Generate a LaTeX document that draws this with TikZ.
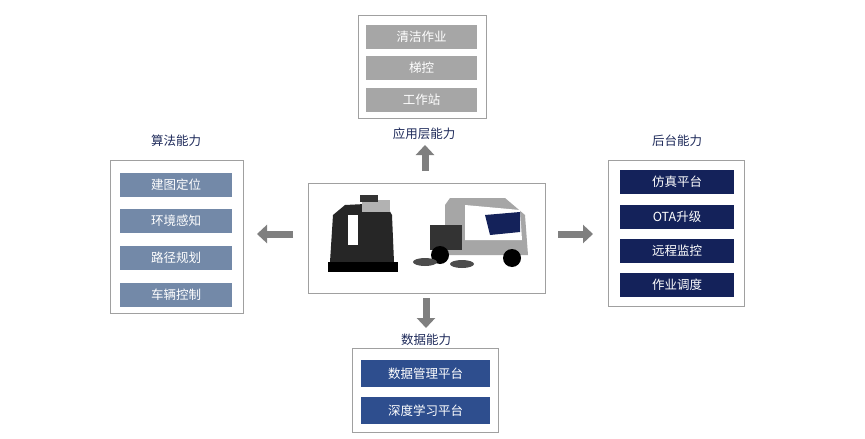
\documentclass[tikz,border=0pt]{standalone}
\usepackage{fontspec}
\newfontfamily\cjk{Noto Sans CJK SC}
\usetikzlibrary{arrows.meta}
\definecolor{frame}{HTML}{A0A0A0}
\definecolor{grayb}{HTML}{A6A6A6}
\definecolor{slate}{HTML}{7389A8}
\definecolor{navy}{HTML}{14225A}
\definecolor{midb}{HTML}{2E4E8E}
\definecolor{lab}{HTML}{1E2A5A}
\definecolor{arr}{HTML}{7F7F7F}
\tikzset{
 panel/.style={draw=frame,line width=0.8pt,fill=white},
 btn/.style={minimum height=24pt,text=white,font=\cjk\fontsize{12.5}{14}\selectfont,inner sep=0pt},
 ttl/.style={text=lab,font=\cjk\fontsize{12.5}{14}\selectfont},
 bigarrow/.style={draw=arr,line width=7pt,-{Triangle[width=18pt,length=10pt]}}
}
\begin{document}
\begin{tikzpicture}[x=1pt,y=-1pt]
\useasboundingbox (0,0) rectangle (865,439);
% top
\draw[panel] (358,15) rectangle (486,118);
\node[btn,fill=grayb,minimum width=111pt] (t1) at (421.5,36.5) {清洁作业};
\node[btn,fill=grayb,minimum width=111pt] (t2) at (421.5,68) {梯控};
\node[btn,fill=grayb,minimum width=111pt] (t3) at (421.5,100) {工作站};
\node[ttl] (tl) at (424,134) {应用层能力};
% left
\draw[panel] (110,160) rectangle (243,313);
\node[ttl] (ll) at (176,141) {算法能力};
\node[btn,fill=slate,minimum width=112pt] (l1) at (176,184.5) {建图定位};
\node[btn,fill=slate,minimum width=112pt] (l2) at (176,221) {环境感知};
\node[btn,fill=slate,minimum width=112pt] (l3) at (176,258) {路径规划};
\node[btn,fill=slate,minimum width=112pt] (l4) at (176,295) {车辆控制};
% right
\draw[panel] (608,160) rectangle (744,306);
\node[ttl] (rl) at (677,141) {后台能力};
\node[btn,fill=navy,minimum width=114pt] (r1) at (677,181.5) {仿真平台};
\node[btn,fill=navy,minimum width=114pt] (r2) at (677,216.5) {OTA升级};
\node[btn,fill=navy,minimum width=114pt] (r3) at (677,250.5) {远程监控};
\node[btn,fill=navy,minimum width=114pt] (r4) at (677,284.5) {作业调度};
% bottom
\draw[panel] (352,348) rectangle (498,432);
\node[ttl] (bl) at (426,340) {数据能力};
\node[btn,fill=midb,minimum width=129pt,minimum height=27pt] (b1) at (425.5,373.5) {数据管理平台};
\node[btn,fill=midb,minimum width=129pt,minimum height=27pt] (b2) at (425.5,410.5) {深度学习平台};
% center
\draw[panel] (308,183) rectangle (545,293);
% robot 1
\fill[black!85] (330,262) -- (333,215) -- (345,205) -- (385,203) -- (392,215) -- (394,262) -- cycle;
\fill[white] (348,215) rectangle (358,245);
\fill[gray!60] (362,200) rectangle (390,212);
\fill[black!80] (360,195) rectangle (378,202);
\fill[black] (328,262) rectangle (398,272);
% sweeper
\fill[gray!70] (445,205) -- (450,198) -- (505,198) -- (525,215) -- (528,255) -- (445,255) -- cycle;
\fill[white] (465,205) -- (520,210) -- (522,240) -- (465,240) -- cycle;
\fill[navy] (485,215) -- (520,212) -- (520,232) -- (490,235) -- cycle;
\fill[black!80] (430,225) rectangle (462,250);
\fill[black] (440,255) circle (9pt);
\fill[black] (512,258) circle (9pt);
\fill[black!70] (425,262) ellipse (12pt and 4pt);
\fill[black!70] (462,264) ellipse (12pt and 4pt);
% arrows
\draw[bigarrow] (425,171) -- (425,145);
\draw[bigarrow] (293,234) -- (257,234);
\draw[bigarrow] (558,234) -- (593,234);
\draw[bigarrow] (426,298) -- (426,328);
\end{tikzpicture}
\end{document}
